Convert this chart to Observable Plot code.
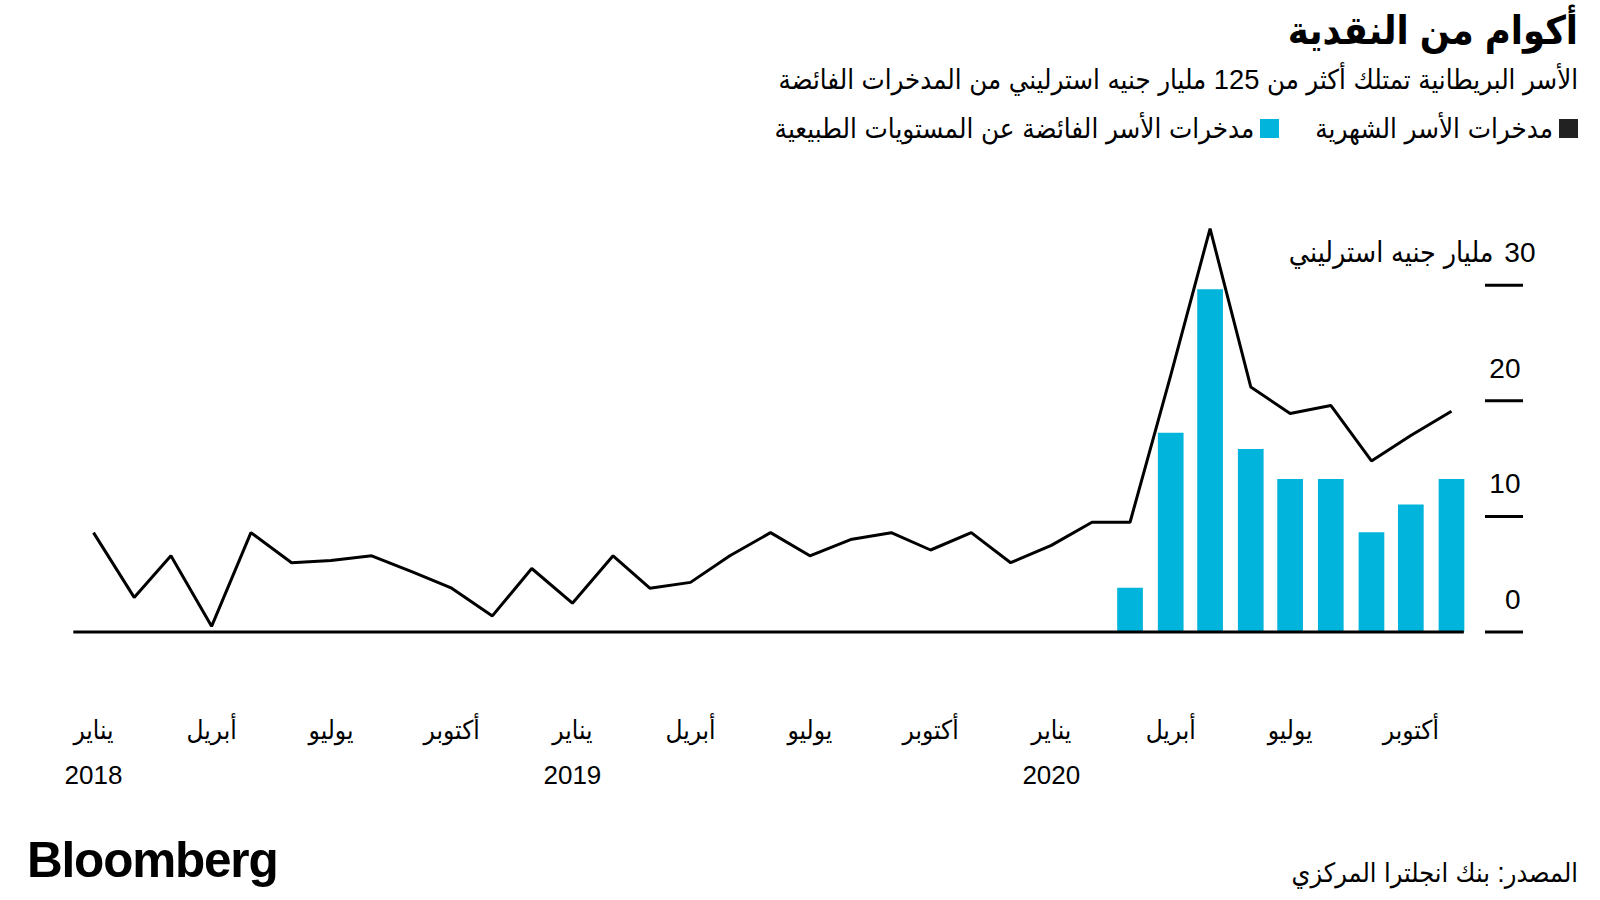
<!DOCTYPE html>
<html>
<head>
<meta charset="utf-8">
<script src="https://cdn.jsdelivr.net/npm/d3@7"></script>
<script src="https://cdn.jsdelivr.net/npm/@observablehq/plot@0.6"></script>
<style>
  html, body { margin: 0; padding: 0; background: #fff; }
  body { width: 1600px; height: 900px; position: relative; overflow: hidden;
         font-family: "Liberation Sans", "DejaVu Sans Condensed", "DejaVu Sans", sans-serif; color: #000; }
  .rt { position: absolute; right: 22px; direction: rtl; text-align: right; white-space: nowrap; line-height: 1; }
  #title { top: 11px; font-size: 39.5px; font-weight: bold; }
  #subtitle { top: 65.5px; font-size: 27.3px; }
  #legend { top: 114.5px; font-size: 27.5px; display: flex; align-items: center; gap: 36px; }
  .sw { display: inline-block; width: 19px; height: 19px; margin-left: 6px; flex: none; }
  .item { display: flex; align-items: center; }
  #chart { position: absolute; left: 0; top: 150px; }
  #logo { position: absolute; left: 27px; top: 835px; font-family: "Liberation Sans", sans-serif; font-weight: bold;
          font-size: 49.5px; letter-spacing: -1.2px; line-height: 1; }
  #source { top: 860px; font-size: 26.8px; }
</style>
</head>
<body>
<div id="title" class="rt">أكوام من النقدية</div>
<div id="subtitle" class="rt">الأسر البريطانية تمتلك أكثر من 125 مليار جنيه استرليني من المدخرات الفائضة</div>
<div id="legend" class="rt"></div>
<div id="chart"></div>
<div id="logo">Bloomberg</div>
<div id="source" class="rt">المصدر: بنك انجلترا المركزي</div>
<script>
// ---- Data ----
const startMonth = "2018-01-01";
const monthlySavings = [
  8.6, 3.0, 6.6, 0.5, 8.6, 6.0, 6.2, 6.6, 5.2, 3.8, 1.4, 5.5,   // 2018
  2.5, 6.6, 3.8, 4.3, 6.6, 8.6, 6.6, 8.0, 8.6, 7.1, 8.6, 6.0,   // 2019
  7.5, 9.5, 9.5, 22.2, 34.9, 21.2, 18.9, 19.6, 14.8, 17.0, 19.1 // 2020 (Jan-Nov)
];
const excessStartMonth = "2020-03-01";
const excessSavings = [3.8, 17.2, 29.6, 15.8, 13.2, 13.2, 8.6, 11.0, 13.2];
const yTicks = [0, 10, 20, 30];
const yUnit = "مليار جنيه استرليني";
const monthNames = ["يناير", "فبراير", "مارس", "أبريل", "مايو", "يونيو",
                    "يوليو", "أغسطس", "سبتمبر", "أكتوبر", "نوفمبر", "ديسمبر"];
const seriesNames = ["مدخرات الأسر الشهرية", "مدخرات الأسر الفائضة عن المستويات الطبيعية"];
const seriesColors = ["#222222", "#00b4db"];

// ---- Legend ----
const legend = document.getElementById("legend");
seriesNames.forEach((name, i) => {
  const item = document.createElement("span");
  item.className = "item";
  const sw = document.createElement("span");
  sw.className = "sw";
  sw.style.background = seriesColors[i];
  item.appendChild(sw);
  item.appendChild(document.createTextNode(name));
  legend.appendChild(item);
});

// ---- Tables ----
const start = new Date(startMonth);
const lineData = monthlySavings.map((v, i) => ({date: d3.utcMonth.offset(start, i), value: v}));
const excessStart = new Date(excessStartMonth);
const barData = excessSavings.map((v, i) => ({date: d3.utcMonth.offset(excessStart, i), value: v}));
const lastDate = lineData[lineData.length - 1].date;
const tickDates = lineData.map(d => d.date).filter(d => d.getUTCMonth() % 3 === 0);
const fmtTick = d => d.getUTCMonth() === 0
  ? monthNames[0] + "\n" + d.getUTCFullYear()
  : monthNames[d.getUTCMonth()];

const font = '"Liberation Sans", "DejaVu Sans Condensed", "DejaVu Sans", sans-serif';

const chart = Plot.plot({
  width: 1600,
  height: 650,
  marginLeft: 93,
  marginRight: 149,
  marginTop: 134.7,
  marginBottom: 168.4,
  x: {type: "utc", domain: [start, lastDate]},
  y: {domain: [0, 30]},
  style: {fontFamily: font, background: "transparent", overflow: "visible", color: "#000"},
  marks: [
    Plot.ruleX(barData, {x: "date", y1: 0, y2: "value", stroke: seriesColors[1], strokeWidth: 25.7}),
    Plot.ruleY([0], {x1: d3.utcDay.offset(start, -15), x2: d3.utcHour.offset(lastDate, 235),
                     stroke: "#000", strokeWidth: 3}),
    Plot.line(lineData, {x: "date", y: "value", stroke: "#000", strokeWidth: 3,
                         strokeLinejoin: "miter", strokeLinecap: "butt"}),
    Plot.axisY({anchor: "right", ticks: yTicks, tickSize: 38, dx: 33, strokeWidth: 3,
                tickFormat: () => "", label: null}),
    Plot.axisY({anchor: "right", ticks: yTicks.filter(t => t !== 30), tickSize: 0, tickPadding: 0,
                dx: 69, dy: -32, textAnchor: "end", fontSize: 28, fill: "#000", label: null}),
    Plot.text([yTicks[yTicks.length - 1]], {y: d => d, frameAnchor: "right", dx: 84, dy: -32,
                textAnchor: "end", fontSize: 28, fill: "#000", text: d => String(d)}),
    Plot.text([yTicks[yTicks.length - 1]], {y: d => d, frameAnchor: "right", dx: 42, dy: -32,
                textAnchor: "end", fontSize: 28.3, fill: "#000", text: () => yUnit}),
    Plot.axisX({ticks: tickDates, tickSize: 0, tickPadding: 75, tickFormat: fmtTick,
                fontSize: 26, lineHeight: 1.72, fill: "#000", label: null})
  ]
});
document.getElementById("chart").appendChild(chart);
</script>
</body>
</html>
